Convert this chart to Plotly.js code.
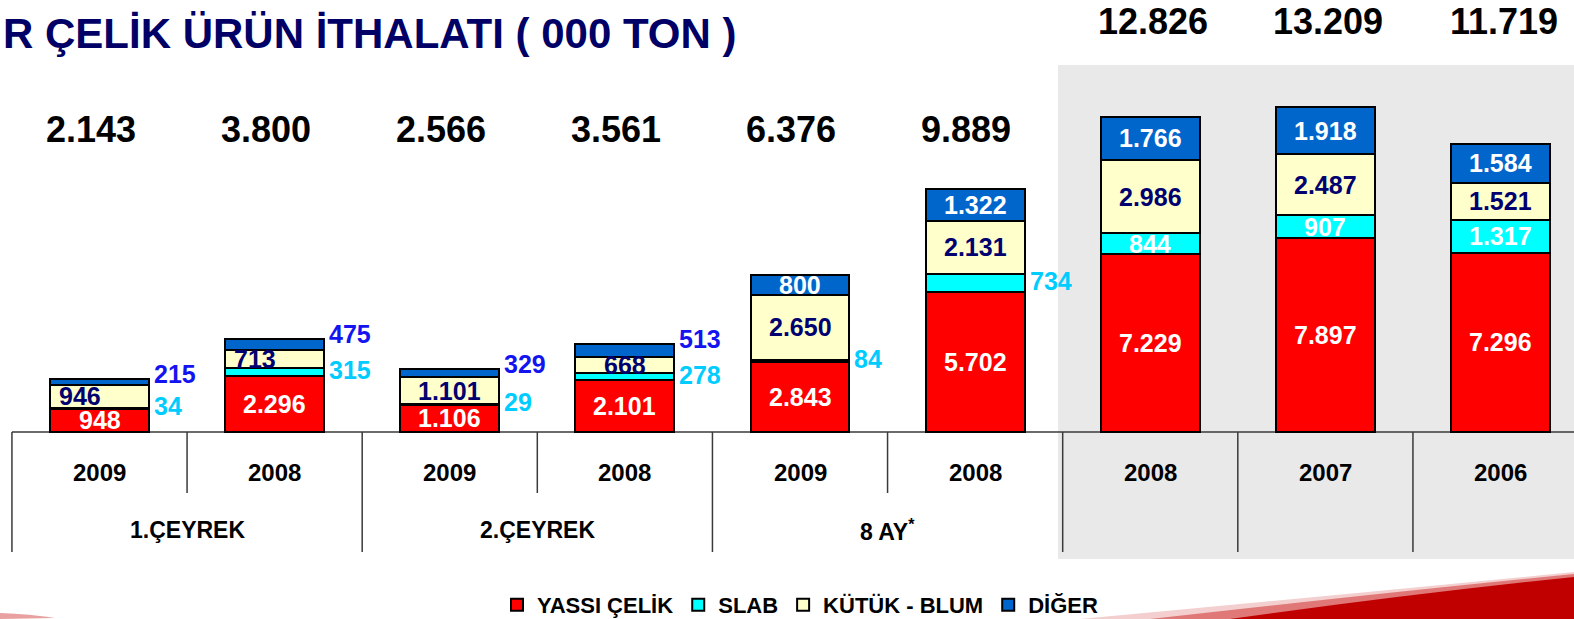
<!DOCTYPE html>
<html>
<head>
<meta charset="utf-8">
<script src="https://cdn.plot.ly/plotly-3.0.1.min.js"></script>
<style>html,body{margin:0;padding:0;background:#fff;}#chart{width:1574px;height:619px;}</style>
</head>
<body>
<div id="chart"></div>
<script>
// ---- data ----
const categories = ['2009', '2008', '2009', '2008', '2009', '2008', '2008', '2007', '2006'];
const groupLabels = ['1.ÇEYREK', '2.ÇEYREK', '8 AY<sup>*</sup>'];
const seriesNames = ['YASSI ÇELİK', 'SLAB', 'KÜTÜK - BLUM', 'DİĞER'];
const yassi = [948, 2296, 1106, 2101, 2843, 5702, 7229, 7897, 7296];
const slab  = [34, 315, 29, 278, 84, 734, 844, 907, 1317];
const kutuk = [946, 713, 1101, 668, 2650, 2131, 2986, 2487, 1521];
const diger = [215, 475, 329, 513, 800, 1322, 1766, 1918, 1584];
const totals = [2143, 3800, 2566, 3561, 6376, 9889, 12826, 13209, 11719];
const titleText = 'R ÇELİK ÜRÜN İTHALATI ( 000 TON )';

// ---- styling ----
const W = 1574, H = 619;
const ARIAL = '"Liberation Sans", Arial, sans-serif';
const colors = ['#FF0000', '#00FFFF', '#FFFFCC', '#0066CC'];
const NAVY = '#000070', CYAN = '#00CCFF', BLUE = '#1414F0';
const BAR_W = 0.565;
const kutukShift = [-20, -20, 0, 0, 0, 0, 0, 0, 0];

const xs = categories.map((_, i) => i);
const px = p => p / W;          // pixel -> paper x
const py = p => 1 - p / H;      // pixel -> paper y
const fmt = v => String(v).replace(/\B(?=(\d{3})+(?!\d))/g, '.');

const series = [yassi, slab, kutuk, diger];
const traces = series.map((vals, k) => ({
  type: 'bar', x: xs, y: vals, name: '<b>' + seriesNames[k] + '</b>', width: BAR_W,
  marker: {color: colors[k], line: {color: '#000', width: 2}},
  hoverinfo: 'skip'
}));

const ann = [];
function label(x, y, text, color, opts) {
  ann.push(Object.assign({x: x, y: y, xref: 'x', yref: 'y', text: '<b>' + text + '</b>', showarrow: false,
    font: {family: ARIAL, size: 25, color: color}}, opts || {}));
}
xs.forEach(i => {
  const y0 = yassi[i], y1 = y0 + slab[i], y2 = y1 + kutuk[i], y3 = y2 + diger[i];
  const right = i + BAR_W / 2;
  label(i, y0 / 2, fmt(yassi[i]), '#FFFFFF');
  if (slab[i] < 800) label(right, (y0 + y1) / 2, fmt(slab[i]), CYAN, {xanchor: 'left', xshift: 3, yshift: 2});
  else label(i, (y0 + y1) / 2, fmt(slab[i]), '#FFFFFF');
  label(i, (y1 + y2) / 2, fmt(kutuk[i]), NAVY, {xshift: kutukShift[i]});
  if (diger[i] < 700) label(right, y3, fmt(diger[i]), BLUE, {xanchor: 'left', xshift: 3, yshift: 5});
  else label(i, (y2 + y3) / 2, fmt(diger[i]), '#FFFFFF');
  ann.push({x: i, xref: 'x', y: i < 6 ? py(130) : py(22), yref: 'paper', yanchor: 'middle',
    xshift: i < 6 ? -9 : 3, text: '<b>' + fmt(totals[i]) + '</b>', showarrow: false,
    font: {family: ARIAL, size: 36, color: '#000'}});
  ann.push({x: i, xref: 'x', y: py(472), yref: 'paper', yanchor: 'middle', text: '<b>' + categories[i] + '</b>', showarrow: false,
    font: {family: ARIAL, size: 24, color: '#000'}});
});
groupLabels.forEach((g, j) => {
  ann.push({x: 2 * j + 0.5, xref: 'x', y: py(530), yref: 'paper', yanchor: 'middle', text: '<b>' + g + '</b>', showarrow: false,
    font: {family: ARIAL, size: 23, color: '#000'}});
});
ann.push({x: px(1), xref: 'paper', xanchor: 'left', y: py(34), yref: 'paper', yanchor: 'middle',
  text: '<b>' + titleText + '</b>', showarrow: false, font: {family: ARIAL, size: 42, color: '#000066'}});

// ---- shapes: background panel, table lines, decoration ----
const LINE = {color: '#3a3a3a', width: 1.5};
const shapes = [
  {type: 'rect', layer: 'below', xref: 'paper', yref: 'paper', x0: px(1058), x1: 1, y0: py(559), y1: py(65),
   fillcolor: '#E9E9E9', line: {width: 0}},
  {type: 'line', layer: 'below', xref: 'x', yref: 'y', x0: -0.5, x1: 8.6, y0: 0, y1: 0, line: LINE}
];
[-0.5, 1.5, 3.5, 5.5, 6.5, 7.5].forEach(x => shapes.push({type: 'line', layer: 'below', xref: 'x', yref: 'paper',
  x0: x, x1: x, y0: py(432), y1: py(552), line: LINE}));
[0.5, 2.5, 4.5].forEach(x => shapes.push({type: 'line', layer: 'below', xref: 'x', yref: 'paper',
  x0: x, x1: x, y0: py(432), y1: py(493), line: LINE}));
shapes.push({type: 'path', layer: 'above', xref: 'paper', yref: 'paper', line: {width: 0}, fillcolor: '#F3CFCF',
  path: `M${px(1080)},${py(619)} Q${px(1370)},${py(592)} ${px(1574)},${py(572)} L${px(1574)},${py(619)} Z`});
shapes.push({type: 'path', layer: 'above', xref: 'paper', yref: 'paper', line: {width: 0}, fillcolor: '#E07878',
  path: `M${px(1150)},${py(619)} Q${px(1390)},${py(592)} ${px(1574)},${py(574)} L${px(1574)},${py(619)} Z`});
shapes.push({type: 'path', layer: 'above', xref: 'paper', yref: 'paper', line: {width: 0}, fillcolor: '#C00000',
  path: `M${px(1230)},${py(619)} Q${px(1410)},${py(594)} ${px(1574)},${py(577)} L${px(1574)},${py(619)} Z`});
shapes.push({type: 'path', layer: 'above', xref: 'paper', yref: 'paper', line: {width: 0}, fillcolor: '#E8A0A0',
  path: `M0,${py(613)} Q${px(30)},${py(614)} ${px(55)},${py(618)} L0,${py(619)} Z`});

// scale: baseline at 432 px, 0.0246 px per ton
const K = 0.0246;
const layout = {
  width: W, height: H, margin: {l: 0, r: 0, t: 0, b: 0, pad: 0, autoexpand: false},
  paper_bgcolor: '#FFFFFF', plot_bgcolor: 'rgba(0,0,0,0)',
  barmode: 'stack', showlegend: true,
  xaxis: {range: [-99.5 / 175.125, (W - 99.5) / 175.125], visible: false, fixedrange: true},
  yaxis: {range: [-(H - 432) / K, 432 / K], visible: false, fixedrange: true},
  legend: {orientation: 'h', x: px(800), xanchor: 'center', y: py(605), yanchor: 'middle',
    traceorder: 'normal', itemwidth: 30, bgcolor: 'rgba(0,0,0,0)',
    font: {family: ARIAL, size: 22, color: '#000'}},
  annotations: ann, shapes: shapes
};
Plotly.newPlot('chart', traces, layout, {staticPlot: true, displayModeBar: false});
</script>
</body>
</html>
